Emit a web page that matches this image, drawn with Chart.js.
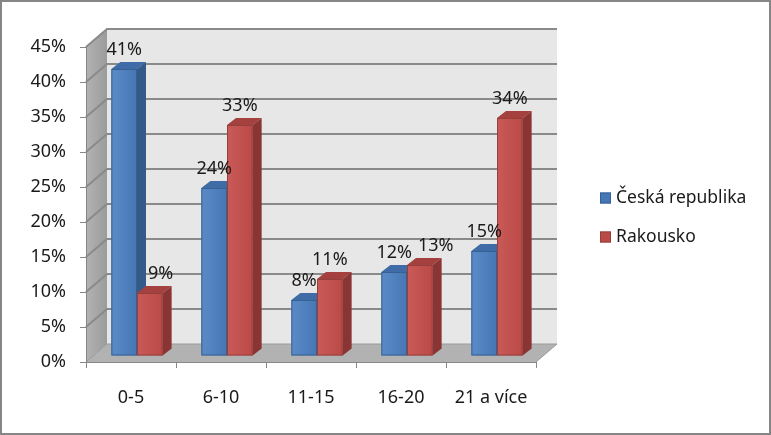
<!DOCTYPE html>
<html>
<head>
<meta charset="utf-8">
<script src="https://cdn.jsdelivr.net/npm/chart.js@4.4.0/dist/chart.umd.min.js"></script>
<style>
  body { margin: 0; background: #fff; }
  canvas { display: block; }
</style>
</head>
<body>
<canvas id="vekChart" width="771" height="435"></canvas>
<script>
// data
var categories = ['0-5', '6-10', '11-15', '16-20', '21 a více'];
var ceskaRepublika = [41, 24, 8, 12, 15];
var rakousko = [9, 33, 11, 13, 34];
var seriesNames = ['Česká republika', 'Rakousko'];
var yMax = 45;
var yStep = 5;

var FONT = '"Noto Sans", "DejaVu Sans", sans-serif';
var WALL_DX = 21, WALL_DY = -18;   // depth of the back wall
var BAR_OX = 6, BAR_OY = -6;       // bars stand a bit behind the front edge
var BAR_DX = 9, BAR_DY = -7;       // depth of each bar

var palette = [
    { front1: '#5b8bc7', front2: '#4677b5', side: '#345a8a', top: '#3f6ca6', line: '#36608f' },
    { front1: '#c95a57', front2: '#bb4a47', side: '#8a3533', top: '#a4403e', line: '#93403d' }
];

function poly(ctx, pts, fill) {
    ctx.beginPath();
    ctx.moveTo(pts[0][0], pts[0][1]);
    for (var i = 1; i < pts.length; i++) ctx.lineTo(pts[i][0], pts[i][1]);
    ctx.closePath();
    ctx.fillStyle = fill;
    ctx.fill();
}

var excel3d = {
    id: 'excel3d',
    beforeDraw: function (chart) {
        var ctx = chart.ctx, a = chart.chartArea, ys = chart.scales.y;
        ctx.save();
        ctx.fillStyle = '#ffffff';
        ctx.fillRect(0, 0, chart.width, chart.height);
        ctx.strokeStyle = '#868686';
        ctx.lineWidth = 2;
        ctx.strokeRect(1, 1, chart.width - 2, chart.height - 2);

        var bottom = ys.getPixelForValue(0), top = ys.getPixelForValue(yMax);
        // back wall
        poly(ctx, [[a.left + WALL_DX, top + WALL_DY], [a.right + WALL_DX, top + WALL_DY],
                   [a.right + WALL_DX, bottom + WALL_DY], [a.left + WALL_DX, bottom + WALL_DY]], '#e7e7e7');
        // side wall
        var g = ctx.createLinearGradient(a.left, 0, a.left + WALL_DX, 0);
        g.addColorStop(0, '#b3b3b3');
        g.addColorStop(1, '#9b9b9b');
        poly(ctx, [[a.left, top], [a.left + WALL_DX, top + WALL_DY],
                   [a.left + WALL_DX, bottom + WALL_DY], [a.left, bottom]], g);
        // floor
        poly(ctx, [[a.left, bottom], [a.left + WALL_DX, bottom + WALL_DY],
                   [a.right + WALL_DX, bottom + WALL_DY], [a.right, bottom]], '#b2b2b2');

        // grid lines on the walls
        ctx.strokeStyle = '#8a8a8a';
        ctx.lineWidth = 2;
        for (var v = yStep; v <= yMax; v += yStep) {
            var yp = ys.getPixelForValue(v);
            ctx.beginPath();
            ctx.moveTo(a.left, yp);
            ctx.lineTo(a.left + WALL_DX, yp + WALL_DY);
            ctx.lineTo(a.right + WALL_DX, yp + WALL_DY);
            ctx.stroke();
        }
        ctx.lineWidth = 1;
        ctx.strokeStyle = '#9a9a9a';
        ctx.beginPath();
        ctx.moveTo(a.left, bottom);
        ctx.lineTo(a.left + WALL_DX, bottom + WALL_DY);
        ctx.lineTo(a.right + WALL_DX, bottom + WALL_DY);
        ctx.lineTo(a.right, bottom);
        ctx.stroke();
        ctx.restore();
    },
    beforeDatasetsDraw: function (chart) {
        var ctx = chart.ctx;
        var metas = chart.data.datasets.map(function (d, i) { return chart.getDatasetMeta(i); });
        ctx.save();
        for (var i = 0; i < categories.length; i++) {
            for (var d = 0; d < metas.length; d++) {
                var el = metas[d].data[i], c = palette[d];
                var x0 = el.x - el.width / 2 + BAR_OX, x1 = el.x + el.width / 2 + BAR_OX;
                var yt = el.y + BAR_OY, yb = el.base + BAR_OY;
                var g = ctx.createLinearGradient(x0, 0, x1, 0);
                g.addColorStop(0, c.front1);
                g.addColorStop(1, c.front2);
                poly(ctx, [[x0, yt], [x1, yt], [x1, yb], [x0, yb]], g);
                poly(ctx, [[x0, yt], [x0 + BAR_DX, yt + BAR_DY], [x1 + BAR_DX, yt + BAR_DY], [x1, yt]], c.top);
                poly(ctx, [[x1, yt], [x1 + BAR_DX, yt + BAR_DY], [x1 + BAR_DX, yb + BAR_DY], [x1, yb]], c.side);
                ctx.strokeStyle = c.line;
                ctx.lineWidth = 1;
                ctx.strokeRect(x0 + 0.5, yt + 0.5, x1 - x0 - 1, yb - yt - 1);
            }
        }
        ctx.restore();
        return false;
    },
    afterDraw: function (chart) {
        var ctx = chart.ctx;
        ctx.save();
        ctx.font = '18px ' + FONT;
        ctx.fillStyle = '#1a1a1a';
        ctx.textAlign = 'left';
        ctx.textBaseline = 'middle';
        var metas = [chart.getDatasetMeta(0), chart.getDatasetMeta(1)];
        for (var i = 0; i < categories.length; i++) {
            var prev = null;
            for (var d = 0; d < metas.length; d++) {
                var el = metas[d].data[i];
                var val = chart.data.datasets[d].data[i];
                var txt = val + '%';
                var w = ctx.measureText(txt).width;
                var cy = el.y + BAR_OY - 19;
                var left = el.x + BAR_OX - w / 2;
                if (prev) {
                    // keep clear of the left bar and its label
                    if (prev.barTop < cy + 9) left = Math.max(left, prev.barRight + 2);
                    if (Math.abs(prev.cy - cy) < 18) left = Math.max(left, prev.right + 6);
                }
                ctx.fillText(txt, left, cy);
                prev = {
                    cy: cy, right: left + w,
                    barTop: el.y + BAR_OY + BAR_DY,
                    barRight: el.x + el.width / 2 + BAR_OX + BAR_DX
                };
            }
        }
        // legend
        ctx.font = '17.5px ' + FONT;
        var ly = [198, 237];
        for (var k = 0; k < seriesNames.length; k++) {
            ctx.fillStyle = palette[k].front2;
            ctx.fillRect(600, ly[k] - 5.5, 11, 11);
            ctx.strokeStyle = palette[k].line;
            ctx.lineWidth = 1;
            ctx.strokeRect(600.5, ly[k] - 5, 10, 10);
            ctx.fillStyle = '#1a1a1a';
            ctx.fillText(seriesNames[k], 616, ly[k]);
        }
        ctx.restore();
    }
};

new Chart(document.getElementById('vekChart'), {
    type: 'bar',
    data: {
        labels: categories,
        datasets: [{
            label: seriesNames[0],
            data: ceskaRepublika,
            backgroundColor: palette[0].front2
        }, {
            label: seriesNames[1],
            data: rakousko,
            backgroundColor: palette[1].front2
        }]
    },
    options: {
        responsive: false,
        animation: false,
        devicePixelRatio: 1,
        layout: { padding: { left: 0, top: 47, right: 235, bottom: 0 } },
        categoryPercentage: 0.57,
        barPercentage: 1,
        plugins: { legend: { display: false }, tooltip: { enabled: false } },
        scales: {
            x: {
                afterFit: function (s) { s.height = 73; },
                grid: { offset: true, drawOnChartArea: false, drawTicks: true, tickLength: 6, color: '#868686', lineWidth: 1 },
                border: { color: '#868686', width: 1 },
                ticks: { color: '#1a1a1a', font: { family: FONT, size: 18 }, padding: 19, maxRotation: 0 }
            },
            y: {
                min: 0,
                max: yMax,
                afterFit: function (s) { s.width = 86; },
                grid: { drawOnChartArea: false, drawTicks: true, tickLength: 6, color: '#868686', lineWidth: 1 },
                border: { color: '#868686', width: 1 },
                ticks: {
                    stepSize: yStep,
                    color: '#1a1a1a',
                    font: { family: FONT, size: 18 },
                    padding: 14,
                    callback: function (v) { return v + '%'; }
                }
            }
        }
    },
    plugins: [excel3d]
});
</script>
</body>
</html>
